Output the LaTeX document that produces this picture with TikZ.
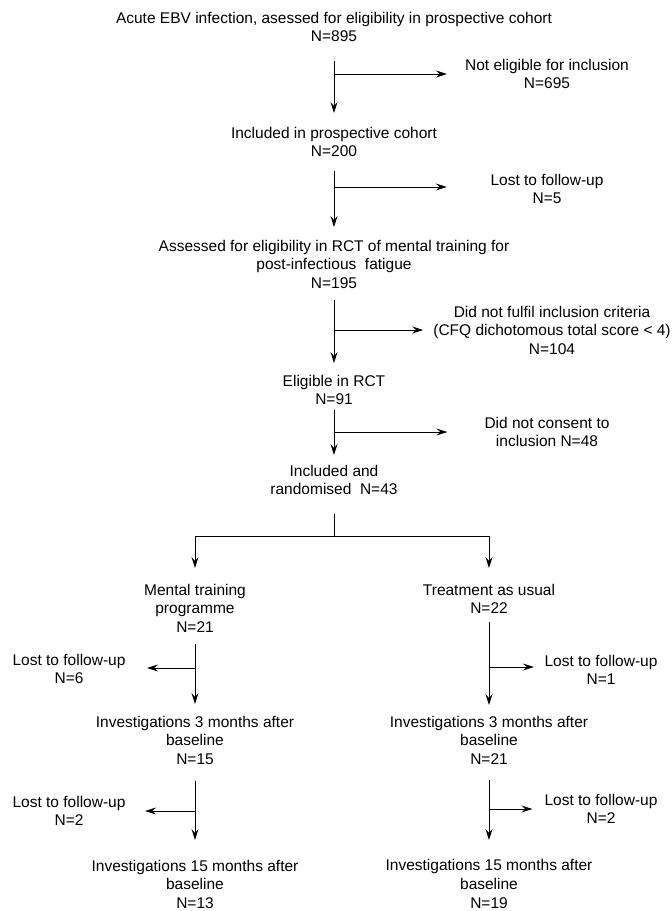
\documentclass[tikz,border=0pt]{standalone}
\usepackage{fontspec}
\setmainfont{Liberation Sans}
\usepackage{tikz}
\usetikzlibrary{arrows.meta, positioning}

\begin{document}
\begin{tikzpicture}[
    x=1pt, y=-1pt,
    txt/.style = {anchor=north, inner sep=0pt, align=center,
                font=\fontsize{15.5}{18.7}\selectfont},
    arr/.style = {draw, line width=0.9pt,
                -{Stealth[length=11pt, width=7pt, inset=4pt]}},
    ln/.style  = {draw, line width=0.9pt}
                    ]
\useasboundingbox (0,0) rectangle (672,911);

% main column
\node (n1) [txt] at (334,11.8) {Acute EBV infection, asessed for eligibility in prospective cohort\\ N=895};
\node (n2) [txt] at (334,126.8) {Included in prospective cohort\\ N=200};
\node (n3) [txt] at (334,239.8) {Assessed for eligibility in RCT of mental training for\\ post-infectious~ fatigue\\ N=195};
\node (n4) [txt] at (334,374.8) {Eligible in RCT\\ N=91};
\node (n5) [txt] at (334,464.8) {Included and\\ randomised~ N=43};

% excluded
\node (x1) [txt] at (547,58.8) {Not eligible for inclusion\\ N=695};
\node (x2) [txt] at (547,173.8) {Lost to follow-up\\ N=5};
\node (x3) [txt] at (552,305.8) {Did not fulfil inclusion criteria\\ (CFQ dichotomous total score < 4)\\ N=104};
\node (x4) [txt] at (547,416.8) {Did not consent to\\ inclusion N=48};

\draw[arr, shorten <=18.3pt, shorten >=13.8pt] (n1) -- (n2);
\draw[arr, shorten <=13.3pt, shorten >=12.8pt] (n2) -- (n3);
\draw[arr, shorten <=10.6pt, shorten >=11.8pt] (n3) -- (n4);
\draw[arr, shorten <=4.3pt, shorten >=9.8pt] (n4) -- (n5);

\coordinate (j1) at (334,74);
\coordinate (j2) at (334,187);
\coordinate (j3) at (334,330);
\coordinate (j4) at (334,432);
\draw[arr, shorten >=18pt] (j1) -- (j1 -| x1.west);
\draw[arr, shorten >=43.6pt] (j2) -- (j2 -| x2.west);
\draw[arr, shorten >=10pt] (j3) -- (j3 -| x3.west);
\draw[arr, shorten >=37pt] (j4) -- (j4 -| x4.west);

% randomisation
\coordinate (split) at (334,536);
\node (a1) [txt] at (195,583.8) {Mental training\\ programme\\ N=21};
\node (b1) [txt] at (489,583.8) {Treatment as usual\\ N=22};
\draw[ln, shorten <=18.3pt] (n5) -- (split);
\draw[arr, shorten >=15.8pt] (split) -| (a1);
\draw[arr, shorten >=15.8pt] (split) -| (b1);

\node (a2) [txt] at (195,715.8) {Investigations 3 months after\\ baseline\\ N=15};
\node (b2) [txt] at (489,715.8) {Investigations 3 months after\\ baseline\\ N=21};
\node (a3) [txt] at (195,859.8) {Investigations 15 months after\\ baseline\\ N=13};
\node (b3) [txt] at (489,859.3) {Investigations 15 months after\\ baseline\\ N=19};

\node (a1x) [txt] at (69,653.8) {Lost to follow-up\\ N=6};
\node (b1x) [txt] at (601,654.8) {Lost to follow-up\\ N=1};
\node (a2x) [txt] at (69,795.8) {Lost to follow-up\\ N=2};
\node (b2x) [txt] at (601,793.8) {Lost to follow-up\\ N=2};

\draw[arr, shorten <=11.6pt, shorten >=11.8pt] (a1) -- (a2);
\draw[arr, shorten <=8.3pt, shorten >=10.8pt] (b1) -- (b2);
\draw[arr, shorten <=15.6pt, shorten >=19.8pt] (a2) -- (a3);
\draw[arr, shorten <=15.6pt, shorten >=19.3pt] (b2) -- (b3);

\coordinate (ja1) at (195,668);
\coordinate (jb1) at (489,667);
\coordinate (ja2) at (195,811);
\coordinate (jb2) at (489,809);
\draw[arr, shorten >=21.5pt] (ja1) -- (ja1 -| a1x.east);
\draw[arr, shorten >=10.5pt] (jb1) -- (jb1 -| b1x.west);
\draw[arr, shorten >=19.5pt] (ja2) -- (ja2 -| a2x.east);
\draw[arr, shorten >=12pt] (jb2) -- (jb2 -| b2x.west);

\end{tikzpicture}
\end{document}
